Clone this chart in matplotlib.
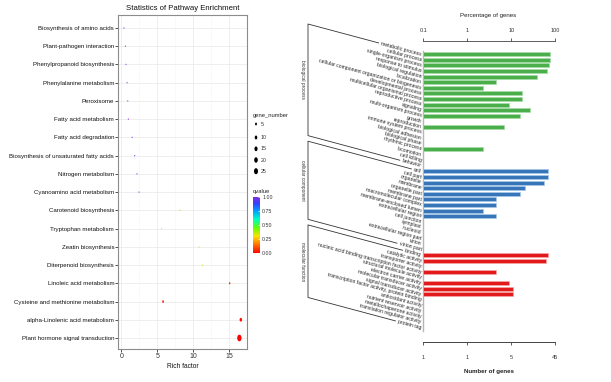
import numpy as np
import matplotlib
matplotlib.use("Agg")
import matplotlib.pyplot as plt
from matplotlib.colors import LinearSegmentedColormap
from matplotlib.path import Path
from matplotlib.ticker import NullLocator
from matplotlib.font_manager import FontProperties
import matplotlib.transforms as mtransforms

# ---------------- data: pathway enrichment (left panel) ----------------
pathways = ["Biosynthesis of amino acids", "Plant-pathogen interaction",
            "Phenylpropanoid biosynthesis", "Phenylalanine metabolism", "Peroxisome",
            "Fatty acid metabolism", "Fatty acid degradation",
            "Biosynthesis of unsaturated fatty acids", "Nitrogen metabolism",
            "Cyanoamino acid metabolism", "Carotenoid biosynthesis", "Tryptophan metabolism",
            "Zeatin biosynthesis", "Diterpenoid biosynthesis", "Linoleic acid metabolism",
            "Cysteine and methionine metabolism", "alpha-Linolenic acid metabolism",
            "Plant hormone signal transduction"]
rich_factor = [0.37, 0.56, 0.65, 0.8, 0.9, 0.97, 1.5, 1.86, 2.18, 2.46,
               8.15, 5.6, 10.8, 11.25, 15.05, 5.8, 16.6, 16.4]
gene_number = [1, 1, 1, 1, 1, 1, 1, 1, 1, 1, 1, 1, 1, 1, 3, 4, 9, 30]
qvalue = [1.0, 1.0, 1.0, 1.0, 1.0, 1.0, 0.99, 0.98, 0.96, 0.93,
          0.38, 0.30, 0.32, 0.36, 0.08, 0.03, 0.02, 0.0]
rich_ticks = [0, 5, 10, 15]
size_breaks = [5, 10, 15, 20, 25]
q_breaks = [0.0, 0.25, 0.5, 0.75, 1.0]
q_labels = ["0.00", "0.25", "0.50", "0.75", "1.00"]

# ---------------- data: GO classification (right panel) ----------------
bp_terms = ["metabolic process", "cellular process", "single-organism process",
            "response to stimulus", "biological regulation", "localization",
            "cellular component organization or biogenesis", "developmental process",
            "multicellular organismal process", "reproductive process", "signaling",
            "multi-organism process", "growth", "reproduction", "immune system process",
            "biological adhesion", "biological phase", "rhythmic process", "locomotion",
            "cell killing", "behavior"]
bp_genes = [35, 34, 33, 29, 17, 2, 1, 8, 8, 4, 12, 7, 0, 3, 0, 0, 0, 1, 0, 0, 0]
cc_terms = ["cell", "cell part", "organelle", "membrane", "organelle part", "membrane part",
            "macromolecular complex", "membrane-enclosed lumen", "extracellular region",
            "cell junction", "symplast", "nucleoid", "extracellular region part",
            "virion", "virion part"]
cc_genes = [30, 30, 25, 9, 7, 2, 2, 1, 2, 0, 0, 0, 0, 0, 0]
mf_terms = ["binding", "catalytic activity", "transporter activity",
            "nucleic acid binding transcription factor activity",
            "structural molecule activity", "electron carrier activity",
            "molecular transducer activity", "signal transducer activity",
            "transcription factor activity, protein binding", "antioxidant activity",
            "nutrient reservoir activity", "metallochaperone activity",
            "translation regulator activity", "protein tag"]
mf_genes = [30, 28, 0, 2, 0, 4, 5, 5, 0, 0, 0, 0, 0, 0]
group_names = ["biological process", "cellular component", "molecular function"]
total_genes = 45
pct_ticks = [0.1, 1, 10, 100]
pct_ticklabels = ["0.1", "1", "10", "100"]
num_ticklabels = ["1", "1", "5", "45"]

# ---------------- figure ----------------
W, H = 611, 382
ARIAL = ["Liberation Sans", "DejaVu Sans"]
plt.rcParams["font.family"] = ARIAL
fig = plt.figure(figsize=(W / 100, H / 100), dpi=100)
fig.patch.set_facecolor("white")


def px_box(x0, y0, x1, y1):
    return [x0 / W, 1 - y1 / H, (x1 - x0) / W, (y1 - y0) / H]


cmap = LinearSegmentedColormap.from_list(
    "rb", [(0.0, "#ff0000"), (0.15, "#ff7000"), (0.3, "#ffe000"), (0.45, "#60ff00"),
           (0.6, "#00ffc0"), (0.75, "#00a0ff"), (0.88, "#3040ff"), (1.0, "#8a2be2")])

# slightly tall ellipse marker (picture is horizontally squeezed)
th = np.linspace(0, 2 * np.pi, 48)
ell = Path(np.column_stack([0.66 * np.cos(th), np.sin(th)]), closed=True)


def marker_area(n):
    d_px = 0.3 + 1.15 * np.sqrt(n)
    return (d_px * 72 / 100) ** 2


# ---------------- left panel ----------------
ax = fig.add_axes(px_box(118.3, 15, 247.3, 349.3))
ypos = np.arange(len(pathways))
sc = ax.scatter(rich_factor, ypos, s=[marker_area(n) for n in gene_number], c=qvalue,
                cmap=cmap, vmin=0, vmax=1, marker=ell, linewidths=0, zorder=3)
ax.set_xlim(-0.42, 17.5)
ax.set_ylim(len(pathways) - 1 + 0.62, -0.71)
ax.set_xticks(rich_ticks)
ax.set_xticklabels([str(t) for t in rich_ticks], fontsize=5.0, color="#333333")
ax.set_xticks([2.5, 7.5, 12.5, 17.5], minor=True)
ax.set_yticks(ypos)
ax.set_yticklabels(pathways, fontsize=4.4, color="#111111")
ax.tick_params(axis="both", which="major", length=2, width=0.6, color="#333333", pad=1)
ax.tick_params(axis="x", which="minor", length=0)
ax.grid(which="major", color="#ebebeb", linewidth=0.6, zorder=0)
ax.grid(which="minor", axis="x", color="#f5f5f5", linewidth=0.4, zorder=0)
ax.set_axisbelow(True)
for s in ax.spines.values():
    s.set_color("#8c8c8c")
    s.set_linewidth(0.8)

fig.text(182.7 / W, 1 - 8.5 / H, "Statistics of Pathway Enrichment", ha="center",
         va="center", fontsize=5.6, color="#111111")
fig.text(183 / W, 1 - 366 / H, "Rich factor", ha="center", va="center", fontsize=4.8,
         color="#111111")

# colour bar
cax = fig.add_axes(px_box(253.3, 196.7, 260, 253.3))
cb = fig.colorbar(sc, cax=cax, ticks=q_breaks)
cb.ax.set_yticklabels(q_labels)
cb.outline.set_visible(False)
cax.tick_params(length=1.5, width=0.5, color="white", direction="in", labelsize=3.8,
                pad=1.5, labelcolor="#333333")

# overlay axes in pixel coordinates for annotations
ov = fig.add_axes([0, 0, 1, 1])
ov.set_xlim(0, W)
ov.set_ylim(H, 0)
ov.axis("off")
ov.patch.set_alpha(0)

ov.text(252.7, 115, "gene_number", fontsize=4.2, ha="left", va="center", color="#222222")
ov.text(252.7, 191, "qvalue", fontsize=4.2, ha="left", va="center", color="#222222")
leg_y = [124, 137.5, 148.8, 160, 171.2]
ov.scatter([256] * len(size_breaks), leg_y, s=[marker_area(n) for n in size_breaks],
           marker=ell, color="black", linewidths=0)
for yy, b in zip(leg_y, size_breaks):
    ov.text(260.5, yy, str(b), fontsize=3.8, ha="left", va="center", color="#333333")

# ---------------- right panel ----------------
axr = fig.add_axes(px_box(423.3, 41, 555.3, 341.7))
axr.set_xscale("log")
axr.set_xlim(0.1, 100)
axr.set_ylim(51.5, -2.38)
axr.patch.set_alpha(0)

groups = [(bp_terms, bp_genes, "#4aae4a", "#a6dba6"),
          (cc_terms, cc_genes, "#3676b8", "#a9c9ea"),
          (mf_terms, mf_genes, "#e31a1c", "#f6a6a6")]
tr = mtransforms.blended_transform_factory(axr.transAxes, axr.transData)
lab_font = FontProperties(family=ARIAL, size=3.7)
renderer = fig.canvas.get_renderer()
ang = np.deg2rad(15)
row = 0
spans = []
for terms, genes, fc, ec in groups:
    first = row
    for term, g in zip(terms, genes):
        if g > 0:
            pct = g / total_genes * 100
            axr.barh(row, pct - 0.1, left=0.1, height=0.72, color=fc, edgecolor=ec,
                     linewidth=0.5, zorder=3)
        axr.text(-0.015, row, term, transform=tr, rotation=-15, rotation_mode="anchor",
                 ha="right", va="center", fontproperties=lab_font, color="#222222")
        row += 1
    spans.append((first, row - 1, terms[0], terms[-1]))

axr.plot([0.1, 0.1], [-0.6, row - 0.5], color="#b5b5b5", lw=1.0, clip_on=False, zorder=2)

for sp in ["left", "right"]:
    axr.spines[sp].set_visible(False)
for sp in ["top", "bottom"]:
    axr.spines[sp].set_color("#444444")
    axr.spines[sp].set_linewidth(0.6)
axr.set_yticks([])
axr.xaxis.set_ticks_position("top")
axr.set_xticks(pct_ticks)
axr.set_xticklabels(pct_ticklabels)
axr.xaxis.set_minor_locator(NullLocator())
axr.tick_params(axis="x", which="major", direction="out", length=2.5, width=0.6,
                labelsize=4, pad=3.5, color="#444444", labelcolor="#333333")

sec = axr.secondary_xaxis("bottom")
sec.set_ticks(pct_ticks, labels=num_ticklabels)
sec.xaxis.set_minor_locator(NullLocator())
sec.tick_params(axis="x", which="major", direction="out", length=2.5, width=0.6,
                labelsize=4, pad=7, color="#444444", labelcolor="#333333")
sec.spines["bottom"].set_color("#444444")
sec.spines["bottom"].set_linewidth(0.6)

ov.text(488.5, 16, "Percentage of genes", fontsize=4.4, ha="center", va="center",
        color="#222222", family=ARIAL)
ov.text(488.5, 371, "Number of genes", fontsize=4.4, ha="center", va="center",
        color="#222222", family=ARIAL, fontweight="bold")


def row_py(r):
    return H - axr.transData.transform((1, r))[1]


x_end = 421.0
x_left = 308.0
for (f, l, tf, tl), name in zip(spans, group_names):
    yf, yl = row_py(f), row_py(l)
    dy = (x_end - x_left) * np.tan(ang)
    wf = renderer.get_text_width_height_descent(tf, lab_font, ismath=False)[0] + 2
    wl = renderer.get_text_width_height_descent(tl, lab_font, ismath=False)[0] + 2
    xs = [x_end - wf * np.cos(ang), x_left, x_left, x_end - wl * np.cos(ang)]
    ys = [yf - wf * np.sin(ang), yf - dy, yl - dy, yl - wl * np.sin(ang)]
    ov.plot(xs, ys, color="#333333", lw=0.6)
    ov.text(302.5, ((yf - dy) + (yl - dy)) / 2, name, rotation=-90, fontsize=3.4,
            ha="center", va="center", color="#333333", family=ARIAL)

fig.savefig("out.png", dpi=100)
